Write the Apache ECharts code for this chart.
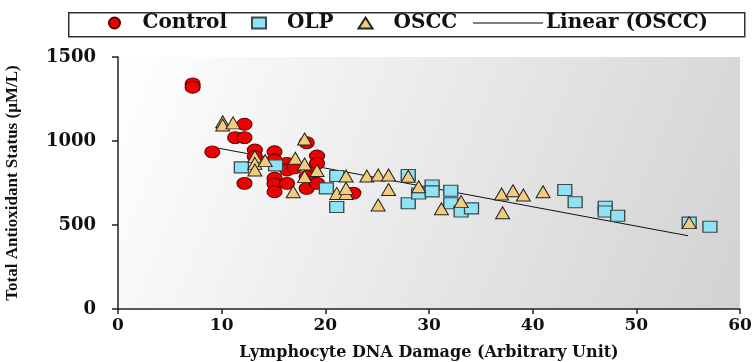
<!DOCTYPE html>
<html><head><meta charset="utf-8">
<script src="https://cdn.jsdelivr.net/npm/echarts@6/dist/echarts.min.js"></script>
<style>html,body{margin:0;padding:0;background:#fff}#c{width:754px;height:362px}</style>
</head><body><div id="c"></div>
<script>
const xTicks = [0, 10, 20, 30, 40, 50, 60];
const yTicks = [0, 500, 1000, 1500];
const controlData = [[7.2,1340],[7.2,1320],[9.1,935],[11.3,1020],[12.2,1020],[12.2,1100],[13.2,946],[15.1,936],[13.2,907],[15.1,887],[16.3,867],[16.3,827],[12.2,748],[15.1,778],[15.1,744],[15.1,698],[16.3,748],[18.2,718],[18.2,990],[19.2,911],[19.2,867],[18.8,808],[18.2,788],[19.2,748],[22.7,690],[17.0,840]];
const olpData = [[11.9,843],[15.2,855],[20.1,718],[21.1,792],[21.1,607],[28.0,798],[28.0,629],[29.0,688],[30.3,735],[30.3,700],[32.1,704],[32.1,629],[33.1,580],[34.1,599],[43.1,708],[44.1,635],[47.0,609],[47.0,580],[48.2,555],[55.1,514],[57.1,490]];
const osccData = [[10.1,1115],[10.1,1095],[11.1,1108],[18.0,1012],[13.2,907],[13.2,867],[13.2,827],[14.2,883],[17.1,897],[18.0,863],[18.0,788],[19.2,824],[16.9,698],[22.0,792],[21.1,688],[22.0,688],[22.0,718],[24.0,792],[25.1,798],[26.1,798],[26.1,711],[25.1,619],[28.0,790],[29.0,728],[31.2,597],[33.1,639],[37.0,685],[38.1,704],[39.1,679],[41.0,698],[37.1,573],[55.1,514]];
const trendX = [9.8, 55.0];
const trendY = [956, 436];

const serif = 'DejaVu Serif';
const narrow = 'Liberation Serif';
const lgText = { fontFamily: serif, fontWeight: 'bold', fontSize: 20, color: '#111', padding: [0, 0, 0, 16] };
const chart = echarts.init(document.getElementById('c'));
chart.setOption({
  animation: false,
  graphic: [{
    type: 'rect', left: 68, top: 12, shape: { width: 676, height: 24 },
    style: { fill: '#fff', stroke: '#333', lineWidth: 1.5 }, z: -1
  }],
  legend: [{
    left: 108, top: 13, padding: 0,
    itemGap: 24, itemWidth: 14, itemHeight: 11,
    textStyle: lgText,
    data: ['Control', 'OLP', 'OSCC']
  }, {
    left: 473, top: 13, padding: 0,
    itemWidth: 70, itemHeight: 11,
    textStyle: Object.assign({}, lgText, { padding: [0, 0, 0, -2] }),
    data: [{ name: 'Linear (OSCC)', icon: 'path://M0,5 L70,5 L70,6 L0,6 Z', itemStyle: { color: '#000' } }]
  }],
  grid: {
    left: 118, right: 14, top: 57, bottom: 53, show: true, borderWidth: 0,
    containLabel: false, outerBoundsMode: 'none',
    backgroundColor: new echarts.graphic.LinearGradient(0, 0, 1, 1, [
      { offset: 0, color: '#ffffff' }, { offset: 1, color: '#d2d2d2' }
    ])
  },
  xAxis: {
    type: 'value', min: xTicks[0], max: xTicks[xTicks.length - 1], interval: 10,
    name: 'Lymphocyte DNA Damage (Arbitrary Unit)', nameLocation: 'middle', nameGap: 36,
    nameTextStyle: { fontFamily: serif, fontWeight: 'bold', fontSize: 16, color: '#111' },
    axisLine: { lineStyle: { color: '#222', width: 1.5 } },
    axisTick: { show: true, inside: false, length: 5, lineStyle: { color: '#222', width: 1.5 } },
    axisLabel: { fontFamily: serif, fontWeight: 'bold', fontSize: 17, color: '#111', margin: 8 },
    splitLine: { show: false }
  },
  yAxis: {
    type: 'value', min: yTicks[0], max: yTicks[yTicks.length - 1], interval: 500,
    name: 'Total Antioxidant Status (µM/L)', nameLocation: 'middle', nameGap: 97, nameRotate: 90,
    nameTextStyle: { fontFamily: narrow, fontWeight: 'bold', fontSize: 17, color: '#111' },
    axisLine: { show: true, lineStyle: { color: '#222', width: 1.5 } },
    axisTick: { show: true, inside: false, length: 6, lineStyle: { color: '#222', width: 1.5 } },
    axisLabel: { fontFamily: serif, fontWeight: 'bold', fontSize: 18, color: '#111', margin: 22,
      formatter: v => String(v) },
    splitLine: { show: false }
  },
  series: [
    { name: 'Linear (OSCC)', type: 'line', data: trendX.map((x, i) => [x, trendY[i]]),
      showSymbol: false, symbol: 'none', lineStyle: { color: '#111', width: 1 }, z: 1 },
    { name: 'Control', type: 'scatter', data: controlData, symbol: 'circle', symbolSize: [15, 12],
      itemStyle: { color: '#ee0000', borderColor: '#5a0000', borderWidth: 1, opacity: 1 }, z: 2 },
    { name: 'OLP', type: 'scatter', data: olpData, symbol: 'rect', symbolSize: [14, 11],
      itemStyle: { color: '#8fe3f2', borderColor: '#3c4a50', borderWidth: 1.2, opacity: 1 }, z: 3 },
    { name: 'OSCC', type: 'scatter', data: osccData, symbol: 'triangle', symbolSize: [14, 12],
      itemStyle: { color: '#f3cb7c', borderColor: '#222', borderWidth: 1, opacity: 1 }, z: 4 }
  ]
});
</script></body></html>
